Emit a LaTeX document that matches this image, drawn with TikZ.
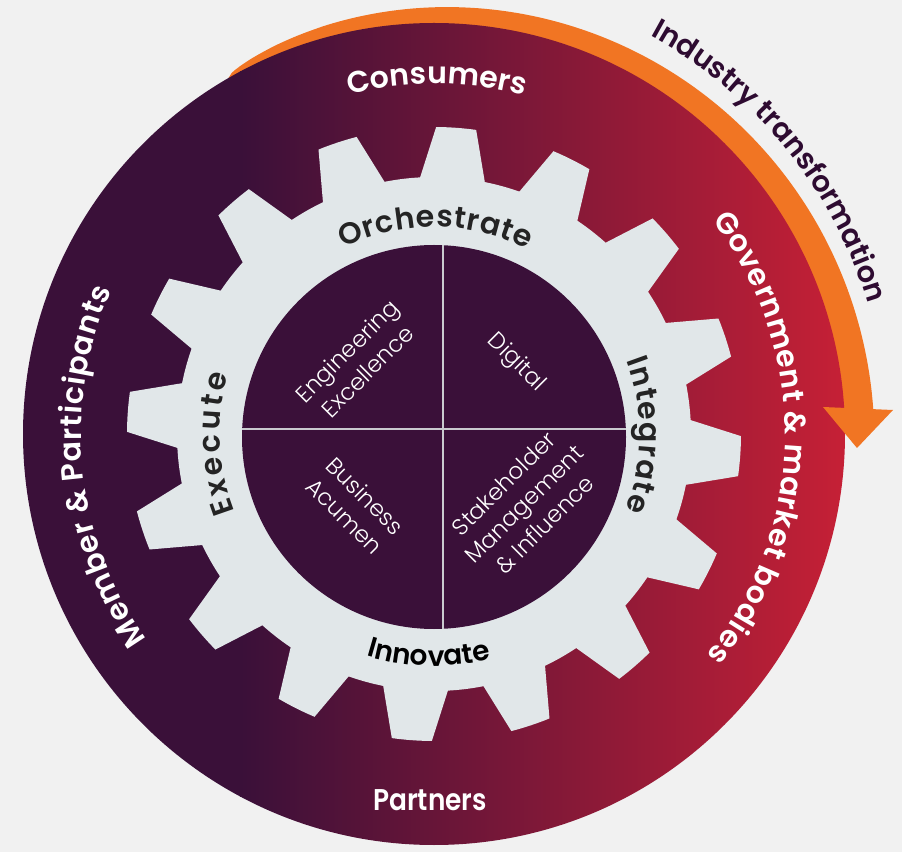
\documentclass[tikz,border=0pt]{standalone}
\usepackage{fontspec}
\setmainfont{Poppins}
\newfontfamily\boldlabel{Poppins SemiBold}
\newfontfamily\medlabel{Poppins Medium}
\newfontfamily\lightlabel{Poppins Light}
\usetikzlibrary{decorations.text}

\definecolor{paper}{HTML}{F1F1F1}
\definecolor{plum}{HTML}{3A1039}
\definecolor{crimson}{HTML}{C62036}
\definecolor{gearc}{HTML}{E1E7E9}
\definecolor{flame}{HTML}{F17523}
\definecolor{ink}{HTML}{242424}
\definecolor{tagc}{HTML}{2E0B31}
\definecolor{rulec}{HTML}{C9CACF}

% font settings used by the curved labels
\newcommand\ringfmt{\boldlabel\fontsize{30}{30}\selectfont\color{white}}
\newcommand\gearfmt{\boldlabel\fontsize{30}{30}\selectfont\color{ink}}
\newcommand\innofmt{\boldlabel\fontsize{28}{28}\selectfont\color{black}}
\newcommand\tagfmt{\boldlabel\fontsize{29}{29}\selectfont\color{tagc}}

\tikzset{
  arclabel/.style={decorate, decoration={text along path, text align={fit to path}, text={#1}}},
  quadtext/.style={text=white, align=center, inner sep=0pt,
    font=\lightlabel\fontsize{23}{29}\selectfont},
}

\begin{document}
\begin{tikzpicture}[x=1pt,y=1pt]
\useasboundingbox (0,0) rectangle (902,852);
\fill[paper] (0,0) rectangle (902,852);
\coordinate (C) at (434,418);

% tapering orange sweep around the outer ring
\fill[flame] plot[variable=\t, domain=120:3, samples=160]
  ({434+(411+29*((120.001-\t)/117)^0.45)*cos(\t)},
   {418+(411+29*((120.001-\t)/117)^0.45)*sin(\t)})
  -- ([shift={(3:405)}]C) arc[start angle=3, end angle=120, radius=405] -- cycle;

% outer ring with its left-to-right colour ramp
\begin{scope}
  \clip (C) circle[radius=411];
  \fill[plum] (0,0) rectangle (241,852);
  \shade[left color=plum, right color=crimson] (240,0) rectangle (846,852);
\end{scope}

% arrow head of the sweep
\fill[flame] (823,445) -- (893,442) -- (857,404) -- cycle;

% sixteen-tooth gear
\begin{scope}[shift={(C)}]
  \fill[gearc] (93.1:257)
    \foreach \k in {0,...,15}{
      -- ({89.6-22.5*\k}:307)
      arc[start angle={89.6-22.5*\k}, end angle={82.1-22.5*\k}, radius=307]
      -- ({78.6-22.5*\k}:257)
      arc[start angle={78.6-22.5*\k}, end angle={70.6-22.5*\k}, radius=257]
    } -- cycle;
\end{scope}

% centre disc split into four quadrants
\fill[plum] (434,415) circle[radius=192];
\begin{scope}
  \clip (434,415) circle[radius=192];
  \draw[rulec, line width=2.5pt] (443,200) -- (443,630);
  \draw[rulec, line width=2.5pt] (220,423) -- (650,423);
\end{scope}

\node[quadtext, rotate=45]  (eng) at (357,491) {Engineering\\Excellence};
\node[quadtext, rotate=-45] (dig) at (516,489) {Digital};
\node[quadtext, rotate=-45] (bus) at (355,346) {Business\\Acumen};
\node[quadtext, rotate=45]  (stk) at (524,348) {Stakeholder\\Management\\\& Influence};

% gear labels
\path[arclabel={|\gearfmt|Orchestrate}]
  ([shift={(116:207)}]C) arc[start angle=116, end angle=63.3, radius=207];
\path[arclabel={|\gearfmt|Integrate}]
  ([shift={(20.9:206)}]C) arc[start angle=20.9, end angle=-21.5, radius=206];
\path[arclabel={|\gearfmt|Execute}]
  ([shift={(201.3:214)}]C) arc[start angle=201.3, end angle=163.8, radius=214];
\path[arclabel={|\innofmt|Innovate}]
  ([shift={(253:232)}]C) arc[start angle=253, end angle=283, radius=232];

% ring labels
\path[arclabel={|\ringfmt|Consumers}]
  ([shift={(104:350)}]C) arc[start angle=104, end angle=75, radius=350];
\path[arclabel={|\ringfmt|Member {\&} Participants}]
  ([shift={(215.5:353)}]C) arc[start angle=215.5, end angle=156, radius=353];
\path[arclabel={|\ringfmt|Government {\&} market bodies}]
  ([shift={(37.5:351)}]C) arc[start angle=37.5, end angle=-39, radius=351];
\node[text=white, font=\boldlabel\fontsize{30}{30}\selectfont, xscale=0.88,
  anchor=base, inner sep=0pt] (partners) at (430,42) {Partners};

% label outside the sweep
\path[arclabel={|\tagfmt|Industry transformation}]
  ([shift={(61.5:453)}]C) arc[start angle=61.5, end angle=17.5, radius=453];
\end{tikzpicture}
\end{document}
